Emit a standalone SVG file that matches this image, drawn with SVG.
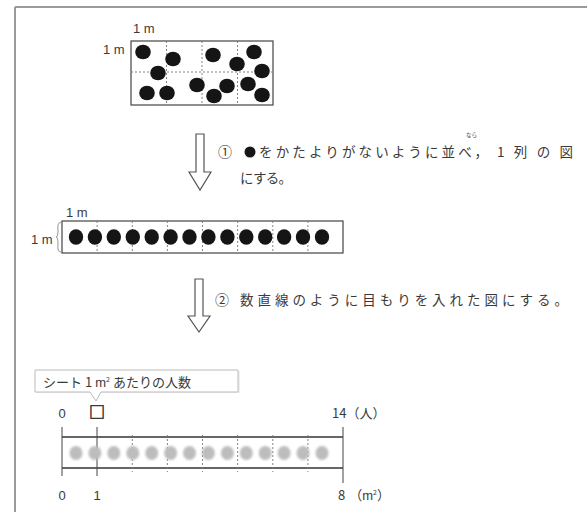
<svg xmlns="http://www.w3.org/2000/svg" width="587" height="512" viewBox="0 0 587 512">
<defs>
<style>
.t{font-family:"Noto Sans CJK JP","Liberation Sans",sans-serif;fill:#3a3a3a}
.u{font-family:"Liberation Sans","Noto Sans CJK JP",sans-serif;fill:#3a3a3a}
.box{fill:#fff;stroke:#444;stroke-width:1.2}
.grid{stroke:#777;stroke-width:0.9;stroke-dasharray:2 2;fill:none}
.dot{fill:#151515}
.fdot{fill:#bdbdbd}
.arr{fill:#fff;stroke:#555;stroke-width:1.2;stroke-linejoin:miter}
.ln{stroke:#333;stroke-width:1.6}
.tk{stroke:#444;stroke-width:1}
</style>
<filter id="blur" x="-20%" y="-50%" width="140%" height="200%"><feGaussianBlur stdDeviation="1.3"/></filter>
</defs>
<rect width="587" height="512" fill="#fff"/>
<g id="frame">
<line x1="15" y1="7" x2="587" y2="7" stroke="#9a9a9a" stroke-width="2"/>
<line x1="15" y1="7" x2="15" y2="512" stroke="#9a9a9a" stroke-width="2"/>
</g>

<g id="scattered">
<text class="u" x="133" y="33" font-size="13">1 m</text>
<text class="u" x="103" y="54" font-size="13">1 m</text>
<rect class="box" x="131" y="41" width="142" height="64"/>
<path class="grid" d="M166.5 41V105M202 41V105M237.5 41V105M131 72H273"/>
<g class="dot">
<ellipse cx="143" cy="52" rx="7.8" ry="7.3"/>
<ellipse cx="173" cy="59" rx="7.8" ry="7.3"/>
<ellipse cx="213" cy="55" rx="7.8" ry="7.3"/>
<ellipse cx="254" cy="52" rx="7.8" ry="7.3"/>
<ellipse cx="237" cy="64" rx="7.8" ry="7.3"/>
<ellipse cx="262" cy="71" rx="7.8" ry="7.3"/>
<ellipse cx="158" cy="73" rx="7.8" ry="7.3"/>
<ellipse cx="147" cy="93" rx="7.8" ry="7.3"/>
<ellipse cx="167" cy="93" rx="7.8" ry="7.3"/>
<ellipse cx="197" cy="85" rx="7.8" ry="7.3"/>
<ellipse cx="214" cy="96" rx="7.8" ry="7.3"/>
<ellipse cx="227" cy="86" rx="7.8" ry="7.3"/>
<ellipse cx="248" cy="84" rx="7.8" ry="7.3"/>
<ellipse cx="262" cy="95" rx="7.8" ry="7.3"/>
</g>
</g>

<g id="connectors">
<path id="arrow1" class="arr" d="M196 134H204V172H211L200 190L189 172H196Z"/>
<path id="arrow2" class="arr" d="M195 279H203V316H210L199 332L188 316H195Z"/>
</g>

<g id="step1">
<text class="t" x="225" y="157" font-size="14" text-anchor="middle">①</text>
<circle cx="250" cy="152" r="5.5" fill="#151515"/>
<text class="t" x="466" y="137" font-size="5.5" fill="#999">なら</text>
<text class="t" x="259" y="157" font-size="13.5" textLength="229" lengthAdjust="spacing">をかたよりがないように並べ，</text>
<text class="t" x="497" y="157" font-size="13.5" textLength="76" lengthAdjust="spacing">1列の図</text>
<text class="t" x="240" y="183" font-size="13.5" textLength="52" lengthAdjust="spacing">にする。</text>
</g>

<g id="row">
<text class="u" x="66" y="217" font-size="13">1 m</text>
<text class="u" x="31" y="244" font-size="13">1 m</text>
<path d="M61 222Q57 223 58 230Q58 237 56 237Q58 237 58 244Q57 252 61 252" fill="none" stroke="#777" stroke-width="0.8"/>
<rect class="box" x="62" y="221" width="281" height="32"/>
<path class="grid" d="M97.1 221V253M132.3 221V253M167.4 221V253M202.5 221V253M237.6 221V253M272.8 221V253M307.9 221V253" stroke-dasharray="1.5 3"/>
<g class="dot">
<ellipse cx="76" cy="237" rx="7.2" ry="7.8"/>
<ellipse cx="94.9" cy="237" rx="7.2" ry="7.8"/>
<ellipse cx="113.8" cy="237" rx="7.2" ry="7.8"/>
<ellipse cx="132.8" cy="237" rx="7.2" ry="7.8"/>
<ellipse cx="151.7" cy="237" rx="7.2" ry="7.8"/>
<ellipse cx="170.6" cy="237" rx="7.2" ry="7.8"/>
<ellipse cx="189.5" cy="237" rx="7.2" ry="7.8"/>
<ellipse cx="208.4" cy="237" rx="7.2" ry="7.8"/>
<ellipse cx="227.4" cy="237" rx="7.2" ry="7.8"/>
<ellipse cx="246.3" cy="237" rx="7.2" ry="7.8"/>
<ellipse cx="265.2" cy="237" rx="7.2" ry="7.8"/>
<ellipse cx="284.1" cy="237" rx="7.2" ry="7.8"/>
<ellipse cx="303" cy="237" rx="7.2" ry="7.8"/>
<ellipse cx="322" cy="237" rx="7.2" ry="7.8"/>
</g>
</g>

<g id="step2">
<text class="t" x="222" y="305" font-size="14" text-anchor="middle">②</text>
<text class="t" x="240" y="305" font-size="13.5" textLength="328" lengthAdjust="spacing">数直線のように目もりを入れた図にする。</text>
</g>

<g id="callout">
<rect x="36" y="371" width="204" height="22" fill="#eeeeee"/>
<path d="M35 370H238V392H101L96 401L90 392H35Z" fill="#fff" stroke="#bbb" stroke-width="1"/>
<text class="t" x="43" y="387" font-size="13">シート<tspan dx="3">1</tspan><tspan class="u" dx="3">m</tspan><tspan font-size="7" dy="-5">2</tspan><tspan dy="5" dx="3">あたりの人数</tspan></text>
</g>

<g id="numberline">
<text class="u" x="62" y="418" font-size="13" text-anchor="middle">0</text>
<text class="t" x="97" y="418" font-size="16" text-anchor="middle" stroke="#3a3a3a" stroke-width="0.6">□</text>
<text class="t" x="332" y="418" font-size="13">14（人）</text>
<line class="ln" x1="62" y1="437" x2="343" y2="437"/>
<line class="ln" x1="62" y1="468" x2="343" y2="468"/>
<line class="tk" x1="62" y1="427" x2="62" y2="476"/>
<line class="tk" x1="343" y1="427" x2="343" y2="483"/>
<line class="tk" x1="97" y1="427" x2="97" y2="476"/>
<path class="grid" d="M132.3 435V472M167.4 435V472M202.5 435V472M237.6 435V472M272.8 435V472M307.9 435V472" stroke="#aaa" stroke-dasharray="1.5 3"/>
<g class="fdot" filter="url(#blur)">
<ellipse cx="76" cy="453" rx="6.5" ry="7"/>
<ellipse cx="94.9" cy="453" rx="6.5" ry="7"/>
<ellipse cx="113.8" cy="453" rx="6.5" ry="7"/>
<ellipse cx="132.8" cy="453" rx="6.5" ry="7"/>
<ellipse cx="151.7" cy="453" rx="6.5" ry="7"/>
<ellipse cx="170.6" cy="453" rx="6.5" ry="7"/>
<ellipse cx="189.5" cy="453" rx="6.5" ry="7"/>
<ellipse cx="208.4" cy="453" rx="6.5" ry="7"/>
<ellipse cx="227.4" cy="453" rx="6.5" ry="7"/>
<ellipse cx="246.3" cy="453" rx="6.5" ry="7"/>
<ellipse cx="265.2" cy="453" rx="6.5" ry="7"/>
<ellipse cx="284.1" cy="453" rx="6.5" ry="7"/>
<ellipse cx="303" cy="453" rx="6.5" ry="7"/>
<ellipse cx="322" cy="453" rx="6.5" ry="7"/>
</g>
<text class="u" x="62" y="500" font-size="13" text-anchor="middle">0</text>
<text class="u" x="97" y="500" font-size="13" text-anchor="middle">1</text>
<text class="t" x="338" y="500" font-size="13">8<tspan dx="4">（</tspan><tspan class="u">m</tspan><tspan font-size="7" dy="-5">2</tspan><tspan dy="5">）</tspan></text>
</g>
</svg>
